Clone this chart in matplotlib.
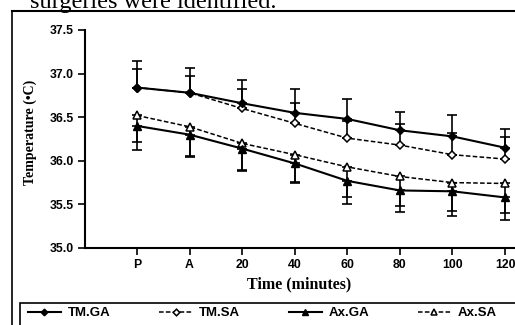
import numpy as np
import matplotlib.pyplot as plt
from matplotlib.lines import Line2D
from matplotlib.patches import Rectangle

# time points
times = ['P', 'A', '20', '40', '60', '80', '100', '120']

# mean temperatures
tm_ga = [36.84, 36.78, 36.66, 36.55, 36.48, 36.35, 36.28, 36.15]
tm_sa = [36.84, 36.78, 36.60, 36.43, 36.26, 36.18, 36.07, 36.02]
ax_ga = [36.40, 36.30, 36.14, 35.97, 35.77, 35.66, 35.65, 35.58]
ax_sa = [36.52, 36.39, 36.20, 36.07, 35.93, 35.82, 35.75, 35.74]

# standard deviations (one-sided bars)
tm_ga_sd = [0.31, 0.28, 0.27, 0.27, 0.23, 0.21, 0.24, 0.22]
tm_sa_sd = [0.21, 0.19, 0.22, 0.23, 0.20, 0.24, 0.25, 0.25]
ax_ga_sd = [0.28, 0.26, 0.26, 0.23, 0.26, 0.25, 0.28, 0.26]
ax_sa_sd = [0.31, 0.34, 0.30, 0.31, 0.35, 0.34, 0.33, 0.34]

x = np.arange(len(times))
zeros = np.zeros(len(times))

fig = plt.figure(figsize=(5.15, 3.25), dpi=100)
# P tick at px 137, 120 tick at px 505
ax = fig.add_axes([85 / 515, 1 - 248 / 325, 440 / 515, 218 / 325])

tick_font = dict(family='Liberation Sans', weight='bold', size=8.8)

# error bars
ebkw = dict(fmt='none', ecolor='black', elinewidth=1.2, capsize=3.3, capthick=1.2)
ax.errorbar(x, tm_ga, yerr=[zeros, tm_ga_sd], **ebkw)
ax.errorbar(x, tm_sa, yerr=[zeros, tm_sa_sd], **ebkw)
ax.errorbar(x, ax_ga, yerr=[ax_ga_sd, zeros], **ebkw)
ax.errorbar(x, ax_sa, yerr=[ax_sa_sd, zeros], **ebkw)

# lines
ax.plot(x, tm_sa, color='black', linestyle=(0, (3, 1.5)), linewidth=1.1,
        marker='D', markersize=4.5, markerfacecolor='white', markeredgewidth=1.1,
        label='TM.SA')
ax.plot(x, tm_ga, color='black', linestyle='-', linewidth=1.5,
        marker='D', markersize=4.5, markerfacecolor='black', label='TM.GA')
ax.plot(x, ax_sa, color='black', linestyle=(0, (3, 1.5)), linewidth=1.1,
        marker='^', markersize=5.5, markerfacecolor='white', markeredgewidth=1.1,
        label='Ax.SA')
ax.plot(x, ax_ga, color='black', linestyle='-', linewidth=1.5,
        marker='^', markersize=5.5, markerfacecolor='black', label='Ax.GA')

step = (505 - 137) / 7
ax.set_xlim(-(137 - 85) / step, 7 + (525 - 505) / step)
ax.set_ylim(35.0, 37.5)
ax.set_xticks(x)
ax.set_xticklabels(times, fontdict=tick_font)
ax.set_yticks([35.0, 35.5, 36.0, 36.5, 37.0, 37.5])
ax.set_yticklabels(['35.0', '35.5', '36.0', '36.5', '37.0', '37.5'], fontdict=tick_font)
ax.tick_params(axis='both', direction='out', length=5, width=1.2, color='black', pad=3)
ax.spines['top'].set_visible(False)
ax.spines['right'].set_visible(False)
ax.spines['left'].set_linewidth(1.5)
ax.spines['bottom'].set_linewidth(1.5)

fig.text(299 / 515, 1 - 284 / 325, 'Time (minutes)', family='Liberation Serif', weight='bold',
         size=11.5, ha='center', va='center')
fig.text(30 / 515, 1 - 132 / 325, 'Temperature (\u2022C)', rotation=90, ha='center', va='center',
         family='Liberation Serif', weight='bold', size=10)

# page text cut at top
fig.text(30 / 515, 1 - 8 / 325, 'surgeries were identified.', family='Liberation Serif',
         size=17.5, va='baseline', ha='left')

# frame lines
fig.add_artist(Line2D([12 / 515, 12 / 515], [0, 1 - 11 / 325], color='black', linewidth=1.2))
fig.add_artist(Line2D([12 / 515, 1], [1 - 11 / 325, 1 - 11 / 325], color='black', linewidth=1.5))
fig.add_artist(Rectangle((20 / 515, -0.02), 1.0, 1 - 303 / 325 + 0.02, transform=fig.transFigure,
                         fill=False, edgecolor='black', linewidth=1.2))

handles, labels = ax.get_legend_handles_labels()
order = [1, 0, 3, 2]
fig.legend([handles[i] for i in order], [labels[i] for i in order], ncol=4,
           loc='center left', bbox_to_anchor=(28 / 515, 1 - 313 / 325), frameon=False,
           prop=dict(family='Liberation Sans', weight='bold', size=9.5),
           handlelength=2.5, handletextpad=0.5, columnspacing=3.7, borderaxespad=0,
           borderpad=0, markerscale=0.75)

plt.savefig('out.png', dpi=100)
